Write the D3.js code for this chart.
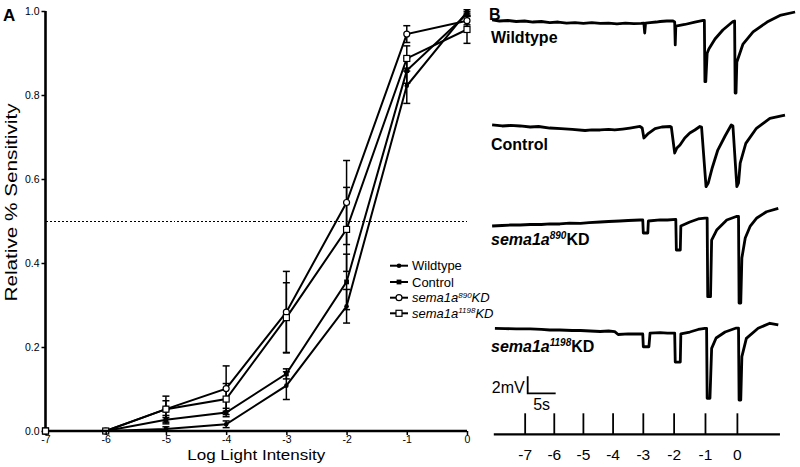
<!DOCTYPE html>
<html><head><meta charset="utf-8">
<script src="https://cdn.jsdelivr.net/npm/d3@7"></script>
<style>
body{margin:0;background:#fff}
svg{display:block}
text{font-family:"Liberation Sans",Arial,Helvetica,sans-serif;fill:#000}
</style>
</head><body>
<svg id="c" width="800" height="467"></svg>
<script>
// ---------- Panel A data ----------
const intensities = [-7, -6, -5, -4, -3, -2, -1, 0];
const wildtype    = [0, 0, 0.005, 0.016, 0.108, 0.297, 0.822, 0.998];
const wildtypeErr = [0, 0, 0.005, 0.008, 0.033, 0.040, 0.042, 0.005];
const control     = [0, 0, 0.027, 0.044, 0.136, 0.355, 0.858, 0.993];
const controlErr  = [0, 0, 0.010, 0.010, 0.012, 0.066, 0.030, 0.005];
const sema890     = [0, 0, 0.052, 0.101, 0.283, 0.544, 0.945, 0.977];
const sema890Err  = [0, 0, 0.031, 0.054, 0.097, 0.100, 0.020, 0.010];
const sema1198    = [0, 0, 0.052, 0.076, 0.270, 0.480, 0.887, 0.956];
const sema1198Err = [0, 0, 0.020, 0.037, 0.083, 0.100, 0.030, 0.033];
const yTicks = [0, 0.2, 0.4, 0.6, 0.8, 1.0];
const halfLine = 0.5;

// ---------- Panel B data (time in s, voltage in mV) ----------
const stimLabels = [-7, -6, -5, -4, -3, -2, -1, 0];
const stimTimes  = [6.1, 11.3, 16.5, 21.8, 27.2, 32.7, 38.3, 44.0];
const wildtypeTrace = [[0.2,0.12],[1.5,0.0],[3.0,0.06],[4.5,-0.06],[6.0,0.0],[7.5,-0.12],[9.0,-0.06],[10.5,-0.18],[12.0,-0.12],[13.5,-0.24],[15.0,-0.18],[16.5,-0.29],[18.0,-0.2],[19.5,-0.29],[21.0,-0.24],[22.5,-0.35],[24.0,-0.24],[25.5,-0.32],[26.8,-0.29],[27.3,-0.24],[27.45,-1.41],[27.6,-0.24],[28.4,-0.18],[29.5,-0.12],[30.2,-0.06],[31.4,0.0],[32.5,0.0],[32.8,-0.12],[32.9,-2.82],[33.0,-0.59],[34.6,-0.41],[36.4,-0.12],[37.9,0.06],[38.1,0.06],[38.2,-7.14],[38.35,-7.14],[38.6,-3.8],[38.9,-3.3],[40.0,-2.12],[41.4,-1.06],[43.2,-0.06],[43.5,0.0],[43.6,-8.47],[43.75,-8.47],[43.9,-4.82],[45.0,-2.71],[46.8,-1.29],[49.3,-0.12],[51.6,0.65],[54.3,1.06]];
const controlTrace = [[0.2,0.24],[2.0,0.12],[3.5,0.18],[5.2,0.12],[7.0,0.0],[8.5,0.06],[10.5,-0.12],[12.5,-0.18],[14.5,-0.29],[16.8,-0.41],[18.0,-0.35],[19.5,-0.35],[21.0,-0.29],[22.1,-0.35],[23.5,-0.24],[24.8,-0.12],[26.6,0.06],[27.0,-0.12],[27.3,-1.29],[28.0,-0.82],[29.3,-0.18],[30.5,0.0],[32.0,0.06],[32.2,0.0],[32.8,-3.06],[33.2,-2.47],[33.75,-2.12],[34.6,-1.29],[35.5,-0.71],[36.4,-0.35],[37.3,0.06],[37.6,0.0],[38.4,-7.02],[38.8,-6.59],[39.5,-4.82],[40.5,-2.71],[41.8,-1.06],[42.9,0.24],[43.2,0.12],[43.9,-7.02],[44.2,-6.59],[44.5,-4.24],[45.5,-1.92],[47.4,-0.15],[49.8,1.02],[52.5,1.41]];
const sema890Trace = [[0.2,-0.59],[2.0,-0.53],[3.5,-0.47],[5.2,-0.47],[7.0,-0.41],[9.0,-0.41],[10.5,-0.35],[12.3,-0.35],[14.0,-0.24],[16.0,-0.29],[17.5,-0.18],[19.5,-0.12],[21.0,-0.06],[23.0,0.0],[24.5,0.06],[26.6,0.12],[27.1,0.12],[27.2,-1.41],[28.0,-1.41],[28.1,0.0],[30.2,0.12],[31.5,0.12],[33.0,0.18],[33.1,-3.41],[33.8,-3.41],[33.9,-0.59],[35.5,-0.12],[37.0,0.24],[38.2,0.35],[38.6,0.35],[38.7,-8.9],[39.2,-8.9],[39.4,-2.24],[40.3,-1.06],[42.1,0.12],[43.8,0.53],[44.2,0.53],[44.3,-9.65],[44.6,-9.65],[44.8,-4.35],[45.4,-2.0],[46.3,-0.59],[47.4,0.32],[49.2,1.09],[51.3,1.49]];
const sema1198Trace = [[0.7,0.32],[2.5,0.29],[4.5,0.24],[7.0,0.24],[9.0,0.18],[10.5,0.12],[12.3,0.12],[14.5,0.06],[16.0,0.06],[17.7,0.0],[19.5,-0.06],[21.0,0.0],[22.1,-0.08],[22.7,-0.41],[24.5,-0.35],[26.6,-0.35],[27.1,-0.35],[27.2,-1.85],[28.2,-1.85],[28.4,-0.24],[30.2,-0.18],[31.5,-0.24],[32.8,-0.24],[32.9,-3.65],[33.8,-3.65],[33.9,-0.35],[35.5,-0.12],[37.0,0.18],[38.2,0.32],[38.5,0.32],[38.6,-7.92],[39.1,-7.92],[39.4,-2.04],[40.2,-0.82],[41.8,-0.12],[43.8,0.35],[44.2,0.35],[44.3,-8.12],[44.6,-8.12],[44.8,-3.02],[45.6,-0.86],[47.7,0.32],[49.8,0.91],[51.3,0.71]];
const scaleBarMV = 2, scaleBarS = 5;

// ---------- build ----------
const svg = d3.select("#c");

// Panel A
const x = d3.scaleLinear().domain([-7, 0]).range([45.5, 467]);
const y = d3.scaleLinear().domain([0, 1]).range([431, 11]);

svg.append("text").attr("x", 3).attr("y", 21).attr("font-size", 17).attr("font-weight", "bold").text("A");

// dotted 50% line
svg.append("line").attr("x1", x(-7)).attr("x2", x(0)).attr("y1", y(halfLine) + 0.5).attr("y2", y(halfLine) + 0.5)
  .attr("stroke", "#000").attr("stroke-width", 1).attr("stroke-dasharray", "2,2").attr("shape-rendering", "crispEdges");

const series = [
  {name: "Wildtype", vals: wildtype, err: wildtypeErr, sym: "fcircle"},
  {name: "Control", vals: control, err: controlErr, sym: "fsquare"},
  {name: "sema890", vals: sema890, err: sema890Err, sym: "ocircle"},
  {name: "sema1198", vals: sema1198, err: sema1198Err, sym: "osquare"}
];

const line = d3.line().x(d => x(d[0])).y(d => y(d[1]));
const gA = svg.append("g");
series.forEach(s => {
  const pts = intensities.map((v, i) => [v, s.vals[i], s.err[i]]);
  gA.append("path").attr("d", line(pts)).attr("fill", "none").attr("stroke", "#000").attr("stroke-width", 2);
  pts.forEach(p => {
    if (p[2] > 0) {
      const g = gA.append("g").attr("stroke", "#000").attr("stroke-width", 1.5);
      g.append("line").attr("x1", x(p[0])).attr("x2", x(p[0])).attr("y1", y(p[1] - p[2])).attr("y2", y(p[1] + p[2]));
      [p[1] - p[2], p[1] + p[2]].forEach(v => g.append("line").attr("x1", x(p[0]) - 3.5).attr("x2", x(p[0]) + 3.5).attr("y1", y(v)).attr("y2", y(v)));
    }
  });
});

function drawSym(g, sym, cx, cy) {
  if (sym === "fcircle") g.append("circle").attr("cx", cx).attr("cy", cy).attr("r", 2.3).attr("fill", "#000");
  else if (sym === "fsquare") g.append("rect").attr("x", cx - 2.4).attr("y", cy - 2.4).attr("width", 4.8).attr("height", 4.8).attr("fill", "#000");
  else if (sym === "ocircle") g.append("circle").attr("cx", cx).attr("cy", cy).attr("r", 3).attr("fill", "#fff").attr("stroke", "#000").attr("stroke-width", 1.2);
  else g.append("rect").attr("x", cx - 3).attr("y", cy - 3).attr("width", 6).attr("height", 6).attr("fill", "#fff").attr("stroke", "#000").attr("stroke-width", 1.2);
}
series.forEach(s => intensities.forEach((v, i) => drawSym(gA, s.sym, x(v), y(s.vals[i]))));

// axes
const yAxis = svg.append("g").attr("transform", `translate(${x(-7)},0)`)
  .call(d3.axisLeft(y).tickValues(yTicks).tickSize(4).tickPadding(2).tickFormat(d3.format(".1f")));
const xAxis = svg.append("g").attr("transform", `translate(0,${y(0)})`)
  .call(d3.axisBottom(x).tickValues(intensities).tickSize(4).tickPadding(1).tickFormat(d => d < 0 ? "-" + Math.abs(d) : String(d)));
[yAxis, xAxis].forEach(a => {
  a.select(".domain").attr("stroke-width", 2.6).attr("stroke", "#000");
  a.selectAll(".tick line").attr("stroke-width", 1.5).attr("stroke", "#000");
  a.selectAll(".tick text").attr("font-size", 10.5).attr("font-family", "Liberation Sans, Arial, sans-serif").attr("fill", "#000");
});
xAxis.select(".domain").attr("d", `M${x(-7)},0H${x(0)}`);
yAxis.select(".domain").attr("d", `M0,${y(0)}V${y(1)}`);
// markers at -7 sit on top of axis
series.forEach(s => drawSym(svg.append("g"), s.sym, x(-7), y(s.vals[0])));

svg.append("text").attr("x", (x(-7) + x(0)) / 2).attr("y", 460).attr("text-anchor", "middle")
  .attr("font-size", 15).attr("textLength", 138).attr("lengthAdjust", "spacingAndGlyphs").text("Log Light Intensity");
svg.append("text").attr("transform", "translate(17,202.5) rotate(-90)").attr("text-anchor", "middle")
  .attr("font-size", 17).attr("textLength", 198).attr("lengthAdjust", "spacingAndGlyphs").text("Relative % Sensitivity");

// legend
const legendY = [265.7, 282, 297.7, 313.3];
series.forEach((s, i) => {
  const g = svg.append("g");
  g.append("line").attr("x1", 390).attr("x2", 408).attr("y1", legendY[i]).attr("y2", legendY[i]).attr("stroke", "#000").attr("stroke-width", 2);
  drawSym(g, s.sym, 399, legendY[i]);
  const t = g.append("text").attr("x", 412).attr("y", legendY[i] + 4.5).attr("font-size", 13);
  if (s.name === "sema890" || s.name === "sema1198") {
    t.attr("font-style", "italic");
    t.append("tspan").text("sema1a");
    t.append("tspan").attr("font-size", 8).attr("dy", -4.5).text(s.name.replace("sema", ""));
    t.append("tspan").attr("dy", 4.5).text("KD");
  } else t.text(s.name);
});

// Panel B
const t = d3.scaleLinear().domain([0, 55]).range([491, 799]);
const mvPx = 8.5;
svg.append("text").attr("x", 489).attr("y", 20).attr("font-size", 16).attr("font-weight", "bold").text("B");

const traces = [
  {data: wildtypeTrace, base: 21, label: ["Wildtype"], ly: 43},
  {data: controlTrace, base: 127, label: ["Control"], ly: 150},
  {data: sema890Trace, base: 221, label: ["sema1a", "890", "KD"], ly: 245},
  {data: sema1198Trace, base: 331, label: ["sema1a", "1198", "KD"], ly: 352}
];
traces.forEach(tr => {
  const v = d3.scaleLinear().domain([0, 1]).range([tr.base, tr.base - mvPx]);
  const ln = d3.line().x(d => t(d[0])).y(d => v(d[1]));
  svg.append("path").attr("d", ln(tr.data)).attr("fill", "none").attr("stroke", "#000")
    .attr("stroke-width", 2.8).attr("stroke-linejoin", "round");
  const tx = svg.append("text").attr("x", 491).attr("y", tr.ly).attr("font-size", 16).attr("font-weight", "bold");
  if (tr.label.length === 1) tx.text(tr.label[0]);
  else {
    tx.append("tspan").attr("font-style", "italic").text(tr.label[0]);
    tx.append("tspan").attr("font-style", "italic").attr("font-size", 10).attr("dy", -6).text(tr.label[1]);
    tx.append("tspan").attr("dy", 6).text(tr.label[2]);
  }
});

// scale bar
const sbV = d3.scaleLinear().domain([0, 1]).range([393.3, 393.3 - mvPx]);
const sbT0 = 6.55;
svg.append("path").attr("d", `M${t(sbT0)},${sbV(scaleBarMV)}V${sbV(0)}H${t(sbT0 + scaleBarS)}`)
  .attr("fill", "none").attr("stroke", "#000").attr("stroke-width", 1.8);
svg.append("text").attr("x", t(sbT0) - 3).attr("y", 393).attr("text-anchor", "end").attr("font-size", 16).text(scaleBarMV + "mV");
svg.append("text").attr("x", t(sbT0 + scaleBarS / 2)).attr("y", 410).attr("text-anchor", "middle").attr("font-size", 16).text(scaleBarS + "s");

// stimulus axis
const gS = svg.append("g").attr("transform", "translate(0,434.3)");
gS.append("line").attr("x1", t(0.5)).attr("x2", t(51.6)).attr("stroke", "#000").attr("stroke-width", 2.2);
stimTimes.forEach((s, i) => {
  gS.append("line").attr("x1", t(s)).attr("x2", t(s)).attr("y1", 0).attr("y2", -21).attr("stroke", "#000").attr("stroke-width", 1.8);
  gS.append("text").attr("x", t(s)).attr("y", 26).attr("text-anchor", "middle").attr("font-size", 15.5)
    .text(stimLabels[i] < 0 ? "-" + Math.abs(stimLabels[i]) : String(stimLabels[i]));
});
</script>
</body></html>
